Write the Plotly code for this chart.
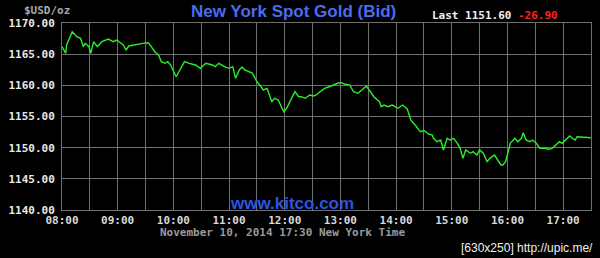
import plotly.graph_objects as go
import pandas as pd

times = ["08:00","08:04","08:05","08:11","08:16","08:20","08:23","08:25","08:29","08:31",
         "08:34","08:38","08:43","08:50","08:55","08:59","09:06","09:09","09:12","09:17",
         "09:20","09:27","09:33","09:40","09:44","09:47","09:51","09:54","09:57","10:01",
         "10:03","10:07","10:12","10:17","10:24","10:29","10:35","10:42","10:45","10:49",
         "10:55","11:00","11:04","11:07","11:11","11:14","11:17","11:25","11:30","11:33",
         "11:37","11:41","11:46","11:49","11:53","11:57","11:59","12:02","12:08","12:11",
         "12:15","12:18","12:22","12:27","12:31","12:34","12:38","12:43","12:50","12:57",
         "13:01","13:04","13:10","13:14","13:19","13:22","13:28","13:31","13:36","13:42",
         "13:44","13:47","13:51","13:56","14:02","14:07","14:12","14:16","14:21","14:26",
         "14:30","14:35","14:39","14:40","14:44","14:48","14:51","14:55","14:58","15:02",
         "15:06","15:09","15:12","15:15","15:20","15:23","15:27","15:30","15:34","15:38",
         "15:41","15:46","15:50","15:53","15:55","15:58","16:03","16:08","16:11","16:15",
         "16:17","16:20","16:24","16:27","16:31","16:35","16:40","16:45","16:48","16:52",
         "16:56","16:59","17:03","17:07","17:10","17:13","17:15","17:30"]
prices = [1166.20,1165.14,1166.47,1168.60,1167.80,1167.55,1166.20,1166.74,1166.20,1165.14,
          1167.00,1166.20,1167.00,1167.43,1167.00,1167.27,1166.47,1165.67,1166.31,1166.47,
          1166.63,1166.74,1166.84,1165.40,1164.87,1163.79,1163.53,1163.79,1163.26,1161.93,
          1161.38,1162.46,1163.79,1163.53,1163.26,1162.73,1163.53,1163.26,1162.99,1163.53,
          1162.99,1162.73,1162.99,1161.13,1162.46,1162.94,1162.46,1161.98,1160.58,1160.05,
          1159.25,1159.52,1157.37,1157.92,1157.65,1156.36,1155.77,1156.32,1158.18,1158.98,
          1158.18,1158.18,1157.92,1158.45,1158.29,1158.45,1158.98,1159.52,1159.89,1160.33,
          1160.42,1160.21,1160.05,1158.98,1158.72,1159.14,1159.89,1159.25,1158.18,1157.37,
          1156.57,1156.84,1156.57,1156.84,1156.32,1156.84,1156.20,1154.36,1153.56,1152.56,
          1152.75,1152.19,1152.03,1151.55,1150.96,1151.23,1149.63,1151.50,1151.23,1151.50,
          1150.70,1149.90,1148.29,1149.63,1149.10,1149.35,1148.82,1149.63,1149.10,1147.75,
          1148.29,1148.82,1148.02,1147.22,1147.22,1147.75,1150.70,1151.50,1150.96,1151.50,
          1152.40,1151.23,1150.96,1151.23,1150.70,1149.90,1149.90,1149.74,1149.90,1150.43,
          1150.96,1150.70,1151.23,1151.87,1151.50,1151.23,1151.76,1151.60]

date = "2014-11-10"
y_ticks = [1140, 1145, 1150, 1155, 1160, 1165, 1170]
x_start, x_end = "08:00", "17:30"
title_text = "New York Spot Gold (Bid)"
last_text = "Last 1151.60"
change_text = "-26.90"
footer_text = "November 10, 2014 17:30 New York Time"
unit_text = "$USD/oz"
site_text = "www.kitco.com"
stamp_text = "[630x250] http://upic.me/"

x = pd.to_datetime([f"{date} {t}" for t in times])

grid = "#707070"
mono = "DejaVu Sans Mono"

fig = go.Figure()
fig.add_trace(go.Scatter(x=x, y=prices, mode="lines",
                         line=dict(color="#2aee2a", width=1.4), hoverinfo="skip"))

fig.update_layout(
    width=600, height=258,
    margin=dict(l=58, r=8, t=23, b=48),
    paper_bgcolor="black", plot_bgcolor="black",
    showlegend=False,
    xaxis=dict(
        range=[f"{date} {x_start}", f"{date} {x_end}"],
        dtick=3600000, tick0=f"{date} 08:00", tickformat="%H:%M",
        showgrid=True, gridcolor=grid, gridwidth=1,
        minor=dict(dtick=1800000, showgrid=True, gridcolor=grid, gridwidth=1),
        showline=True, linecolor=grid, linewidth=1, mirror=True,
        ticks="", zeroline=False,
        tickfont=dict(family=mono, size=11, color="#d8d8d8", weight="bold"),
    ),
    yaxis=dict(
        range=[1140, 1170], tickvals=y_ticks, tickformat=".2f",
        showgrid=True, gridcolor=grid, gridwidth=1,
        showline=True, linecolor=grid, linewidth=1, mirror=True,
        ticks="", zeroline=False, ticklabelstandoff=4,
        tickfont=dict(family=mono, size=11, color="#e8e8e8", weight="bold"),
    ),
)

annots = [
    dict(text=unit_text, px=18, py=11, anchor="left",
         font=dict(family=mono, size=11, color="#a8a8a8", weight="bold")),
    dict(text=title_text, px=292, py=12, anchor="center",
         font=dict(family="Liberation Sans", size=17, color="#4a6cf0", weight="bold")),
    dict(text=last_text, px=429, py=15, anchor="left",
         font=dict(family=mono, size=11, color="#f0f0f0", weight="bold")),
    dict(text=change_text, px=516, py=15, anchor="left",
         font=dict(family=mono, size=11, color="#ff2020", weight="bold")),
    dict(text=site_text, px=290, py=203, anchor="center",
         font=dict(family="Liberation Sans", size=17, color="#2a55e0", weight="bold")),
    dict(text=footer_text, px=281, py=232, anchor="center",
         font=dict(family=mono, size=11, color="#9a9a9a", weight="bold")),
    dict(text=stamp_text, px=596, py=248, anchor="right",
         font=dict(family="Liberation Sans", size=12, color="#f0f0f0")),
]
W, H = 600, 258
pl, pr, pt, pb = 58, 8, 23, 48
pw, ph = W - pl - pr, H - pt - pb
for a in annots:
    fig.add_annotation(text=a["text"], xref="paper", yref="paper",
                       x=(a["px"] - pl) / pw, y=(H - pb - a["py"]) / ph,
                       xanchor=a["anchor"], yanchor="middle",
                       showarrow=False, font=a["font"])

fig.write_html("out.html")
